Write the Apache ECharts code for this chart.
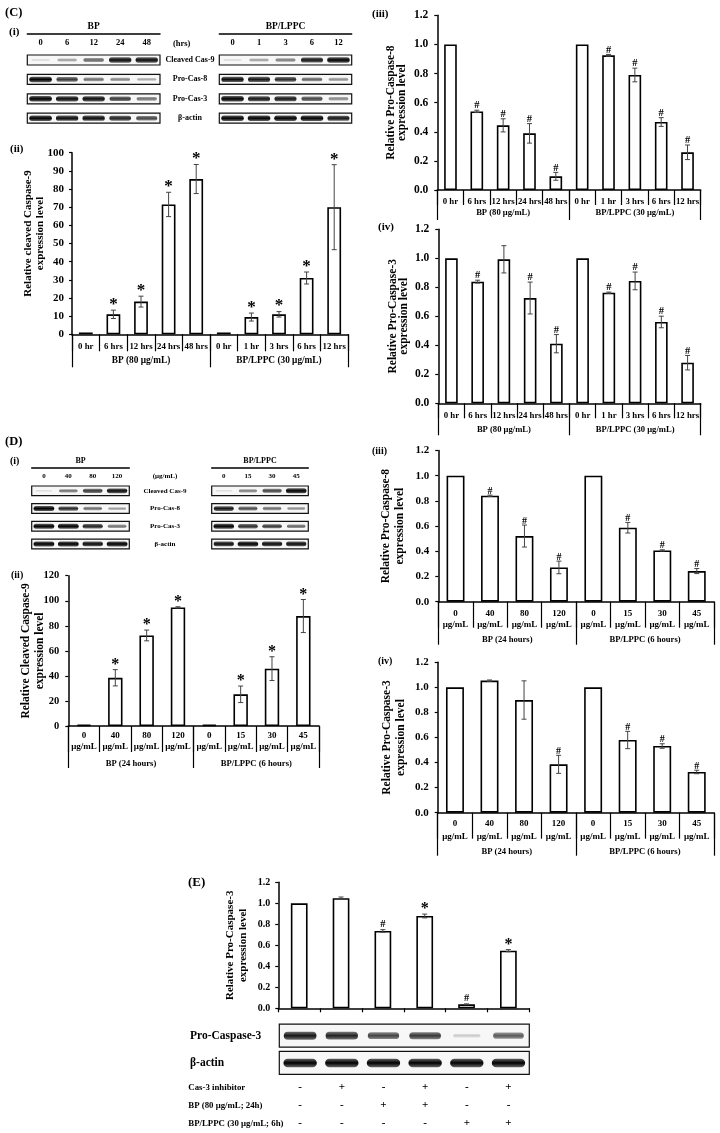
<!DOCTYPE html>
<html><head><meta charset="utf-8">
<script src="https://cdn.jsdelivr.net/npm/echarts@6/dist/echarts.min.js"></script>
<style>html,body{margin:0;padding:0;background:#fff}#c{width:720px;height:1133px}</style>
</head><body><div id="c"></div>
<script>
const FONT = '"Liberation Serif","Times New Roman",serif';

// ---------------- (C) time course ----------------
const cTimeLabels = ['0 hr','6 hrs','12 hrs','24 hrs','48 hrs','0 hr','1 hr','3 hrs','6 hrs','12 hrs'];
const cGroupLabels = ['BP (80 μg/mL)','BP/LPPC (30 μg/mL)'];
const cCleavedCas9 = [1, 11, 18, 71.5, 85.5, 1, 9.5, 11, 31, 70];
const cCleavedCas9Err = [0, 2.3, 3, 6.7, 8, 0, 2.2, 1.5, 3.3, 23.4];
const cCleavedCas9Mark = ['', '*', '*', '*', '*', '', '*', '*', '*', '*'];
const cProCas8 = [1, 0.54, 0.444, 0.389, 0.094, 1, 0.925, 0.79, 0.467, 0.259];
const cProCas8Err = [0, 0.008, 0.045, 0.067, 0.027, 0, 0.006, 0.047, 0.03, 0.05];
const cProCas8Mark = ['', '#', '#', '#', '#', '', '#', '#', '#', '#'];
const cProCas3 = [1, 0.839, 0.993, 0.726, 0.411, 1, 0.763, 0.844, 0.561, 0.28];
const cProCas3Err = [0, 0.01, 0.094, 0.11, 0.063, 0, 0.004, 0.061, 0.04, 0.05];
const cProCas3Mark = ['', '#', '', '#', '#', '', '#', '#', '#', '#'];

const cBlotRows = ['Cleaved Cas-9', 'Pro-Cas-8', 'Pro-Cas-3', 'β-actin'];
const cBlotLanesBP = ['0', '6', '12', '24', '48'];
const cBlotLanesLPPC = ['0', '1', '3', '6', '12'];
const cBlotBP = [
  [0.04, 0.3, 0.55, 0.95, 0.95],
  [1.0, 0.75, 0.5, 0.4, 0.25],
  [1.0, 0.95, 0.95, 0.75, 0.5],
  [1.0, 0.95, 0.95, 0.85, 0.7]
];
const cBlotLPPC = [
  [0.04, 0.3, 0.45, 0.9, 1.0],
  [0.95, 0.9, 0.8, 0.55, 0.35],
  [1.0, 0.9, 0.9, 0.7, 0.4],
  [1.0, 1.0, 1.0, 1.0, 0.9]
];

// ---------------- (D) dose response ----------------
const dDoseLabels = ['0', '40', '80', '120', '0', '15', '30', '45'];
const dGroupLabels = ['BP (24 hours)', 'BP/LPPC (6 hours)'];
const dCleavedCas9 = [1, 38.5, 72.3, 94.7, 1, 25.3, 45.8, 87.8];
const dCleavedCas9Err = [0, 6.5, 4.3, 0.5, 0, 6.6, 9.5, 13.2];
const dCleavedCas9Mark = ['', '*', '*', '*', '', '*', '*', '*'];
const dProCas8 = [1, 0.841, 0.521, 0.272, 1, 0.587, 0.407, 0.243];
const dProCas8Err = [0, 0.005, 0.087, 0.05, 0, 0.042, 0.005, 0.02];
const dProCas8Mark = ['', '#', '#', '#', '', '#', '#', '#'];
const dProCas3 = [1, 1.054, 0.899, 0.386, 1, 0.58, 0.532, 0.325];
const dProCas3Err = [0, 0.005, 0.153, 0.072, 0, 0.069, 0.018, 0.014];
const dProCas3Mark = ['', '', '', '#', '', '#', '#', '#'];

const dBlotRows = ['Cleaved Cas-9', 'Pro-Cas-8', 'Pro-Cas-3', 'β-actin'];
const dBlotLanesBP = ['0', '40', '80', '120'];
const dBlotLanesLPPC = ['0', '15', '30', '45'];
const dBlotBP = [
  [0.03, 0.5, 0.75, 0.95],
  [1.0, 0.8, 0.5, 0.3],
  [1.0, 1.0, 0.85, 0.5],
  [1.0, 1.0, 0.95, 1.0]
];
const dBlotLPPC = [
  [0.03, 0.45, 0.7, 1.0],
  [0.9, 0.65, 0.5, 0.35],
  [1.0, 0.8, 0.75, 0.55],
  [0.95, 1.0, 0.95, 0.95]
];

// ---------------- (E) inhibitor ----------------
const eLanes = ['1', '2', '3', '4', '5', '6'];
const eProCas3 = [1.0, 1.048, 0.737, 0.879, 0.038, 0.549];
const eProCas3Err = [0, 0.012, 0.012, 0.018, 0.004, 0.01];
const eProCas3Mark = ['', '', '#', '*', '#', '*'];
const eBlotRows = ['Pro-Caspase-3', 'β-actin'];
const eBlot = [
  [0.9, 0.85, 0.7, 0.75, 0.1, 0.6],
  [1.0, 1.0, 1.0, 1.0, 1.0, 1.0]
];
const eTreatRows = ['Cas-3 inhibitor', 'BP (80 μg/mL; 24h)', 'BP/LPPC (30 μg/mL; 6h)'];
const eInhibitor = ['-', '+', '-', '+', '-', '+'];
const eBP = ['-', '-', '+', '+', '-', '-'];
const eLPPC = ['-', '-', '-', '-', '+', '+'];

// ---------------- builders ----------------
const grids = [], xAxes = [], yAxes = [], series = [];
function addGrid(g) {
  grids.push(Object.assign({ containLabel: false, outerBoundsMode: 'none', show: false }, g));
  return grids.length - 1;
}
function txt(size, extra) {
  return Object.assign({ fontFamily: FONT, fontWeight: 'bold', fontSize: size, color: '#000' }, extra || {});
}

function errorSeries(xi, yi, values, errors, marks, cfg) {
  return {
    type: 'custom', xAxisIndex: xi, yAxisIndex: yi, silent: true, z: 5,
    data: values.map((v, i) => [i, v, errors[i]]),
    renderItem(params, api) {
      const i = api.value(0), v = api.value(1), e = api.value(2);
      const top = api.coord([i, v + e]);
      const bot = api.coord([i, v - e]);
      const cap = cfg.cap || 2.5;
      const ch = [];
      if (e > 0) {
        const st = { stroke: '#444', lineWidth: 1 };
        ch.push({ type: 'line', shape: { x1: top[0], y1: top[1], x2: bot[0], y2: bot[1] }, style: st });
        ch.push({ type: 'line', shape: { x1: top[0] - cap, y1: top[1], x2: top[0] + cap, y2: top[1] }, style: st });
        ch.push({ type: 'line', shape: { x1: bot[0] - cap, y1: bot[1], x2: bot[0] + cap, y2: bot[1] }, style: st });
      }
      const m = marks[params.dataIndex];
      if (m) {
        const star = m === '*';
        ch.push({
          type: 'text',
          style: {
            text: m, x: top[0], y: top[1] + (star ? cfg.starOff : cfg.hashOff),
            align: 'center', verticalAlign: 'bottom',
            fontFamily: FONT, fontWeight: 'bold', fontSize: star ? cfg.starSize : cfg.hashSize, fill: '#000'
          }
        });
      }
      return { type: 'group', children: ch };
    }
  };
}

function barChart(cfg) {
  const gi = addGrid({ left: cfg.left, top: cfg.top, width: cfg.width, height: cfg.height });
  const xi = xAxes.length;
  xAxes.push({
    gridIndex: gi, type: 'category', position: 'bottom', data: cfg.cats, boundaryGap: true,
    axisLine: { show: true, lineStyle: { color: '#000', width: 1.5 } },
    axisTick: { show: true, interval: 0, length: cfg.catTick, lineStyle: { color: '#000', width: 1.2 } },
    axisLabel: cfg.catShow === false ? { show: false } :
      Object.assign({ interval: 0, margin: cfg.catMargin, formatter: cfg.catFormatter }, txt(cfg.catSize || 9, { lineHeight: cfg.catLH || 11 })),
    splitLine: { show: false }
  });
  if (cfg.groups) {
    xAxes.push({
      gridIndex: gi, type: 'category', position: 'bottom', data: cfg.groups, boundaryGap: true,
      axisLine: { show: false },
      axisTick: { show: true, interval: 0, length: cfg.grpTick, lineStyle: { color: '#000', width: 1.2 } },
      axisLabel: Object.assign({ interval: 0, margin: cfg.grpMargin }, txt(cfg.grpSize || 8.6)),
      splitLine: { show: false }
    });
  }
  const yi = yAxes.length;
  yAxes.push({
    gridIndex: gi, type: 'value', min: 0, max: cfg.max, interval: cfg.interval,
    axisLine: { show: true, lineStyle: { color: '#000', width: 1.5 } },
    axisTick: { show: true, length: 3, lineStyle: { color: '#000', width: 1.2 } },
    splitLine: { show: false },
    axisLabel: Object.assign({ margin: cfg.yMargin, formatter: v => cfg.decimals ? Number(v).toFixed(cfg.decimals) : String(Math.round(v)) }, txt(cfg.ySize || 11)),
    name: cfg.yName, nameLocation: 'middle', nameGap: cfg.nameGap, nameRotate: 90, nameMoveOverlap: false,
    nameTextStyle: txt(cfg.nameSize || 11.5, { lineHeight: cfg.nameLH || 13, align: 'center', padding: cfg.namePad || 0 })
  });
  series.push({
    type: 'bar', xAxisIndex: xi, yAxisIndex: yi, data: cfg.values, barWidth: cfg.barWidth, silent: true,
    itemStyle: { color: '#fff', borderColor: '#000', borderWidth: 1.6 }, z: 2
  });
  series.push(errorSeries(xi, yi, cfg.values, cfg.errors, cfg.marks, cfg));
}

function blot(cfg) {
  const gi = addGrid({ left: cfg.left, top: cfg.top, width: cfg.width, height: cfg.height });
  const xi = xAxes.length;
  xAxes.push({
    gridIndex: gi, type: 'category', position: 'top', data: cfg.lanes, boundaryGap: true,
    axisLine: { show: false }, axisTick: { show: false }, splitLine: { show: false },
    axisLabel: cfg.laneShow === false ? { show: false } : Object.assign({ interval: 0, margin: cfg.laneMargin }, txt(cfg.laneSize || 8.5))
  });
  if (cfg.header) {
    xAxes.push({
      gridIndex: gi, type: 'category', position: 'top', offset: cfg.headerOffset, data: [''],
      axisLine: { show: true, lineStyle: { color: '#000', width: 1.5 } }, axisTick: { show: false },
      axisLabel: { show: false }, splitLine: { show: false },
      name: cfg.header, nameLocation: 'middle', nameGap: cfg.headerGap, nameTextStyle: txt(cfg.headerSize || 9.5)
    });
  }
  const yi = yAxes.length;
  yAxes.push({
    gridIndex: gi, type: 'category', data: cfg.rows, inverse: true, boundaryGap: true,
    axisLine: { show: false }, axisTick: { show: false }, splitLine: { show: false },
    axisLabel: cfg.rowLabels ? Object.assign({ interval: 0, margin: cfg.rowMargin, align: cfg.rowAlign }, txt(cfg.rowSize)) : { show: false }
  });
  series.push({
    type: 'custom', xAxisIndex: xi, yAxisIndex: yi, silent: true, z: 1,
    data: cfg.rows.map((r, i) => [0, i]),
    renderItem(params, api) {
      const cs = params.coordSys;
      const cy = api.coord([0, api.value(1)])[1];
      return { type: 'rect', shape: { x: cs.x, y: cy - cfg.boxH / 2, width: cs.width, height: cfg.boxH },
        style: { fill: '#f7f7f7', stroke: '#111', lineWidth: 1.2 } };
    }
  });
  const data = [];
  cfg.matrix.forEach((row, r) => row.forEach((v, l) => data.push([l, r, v])));
  series.push({
    type: 'custom', xAxisIndex: xi, yAxisIndex: yi, silent: true, z: 2, data,
    renderItem(params, api) {
      const c = api.coord([api.value(0), api.value(1)]);
      const sz = api.size([1, 1]);
      const v = api.value(2);
      const w = sz[0] * cfg.bandW * (0.8 + 0.2 * v);
      const h = Math.max(1.2, cfg.bandH * (0.35 + 0.65 * v));
      const a = 0.08 + 0.92 * v;
      const col = k => 'rgba(0,0,0,' + (a * k).toFixed(3) + ')';
      return { type: 'rect', shape: { x: c[0] - w / 2, y: c[1] - h / 2, width: w, height: h, r: h / 2 },
        style: { fill: { type: 'linear', x: 0, y: 0, x2: 0, y2: 1,
          colorStops: [{ offset: 0, color: col(0.6) }, { offset: 0.5, color: col(1) }, { offset: 1, color: col(0.6) }] } } };
    }
  });
}

function signTable(cfg) {
  const gi = addGrid({ left: cfg.left, top: cfg.top, width: cfg.width, height: cfg.height });
  const xi = xAxes.length;
  xAxes.push({ gridIndex: gi, type: 'category', data: cfg.lanes, show: false });
  const yi = yAxes.length;
  yAxes.push({
    gridIndex: gi, type: 'category', data: cfg.rows, inverse: true,
    axisLine: { show: false }, axisTick: { show: false }, splitLine: { show: false },
    axisLabel: Object.assign({ interval: 0, margin: cfg.rowMargin, align: 'left' }, txt(cfg.rowSize))
  });
  const data = [];
  cfg.signs.forEach((row, r) => row.forEach((s, l) => data.push([l, r])));
  series.push({
    type: 'custom', xAxisIndex: xi, yAxisIndex: yi, silent: true, data,
    renderItem(params, api) {
      const l = api.value(0), r = api.value(1);
      const c = api.coord([l, r]);
      return { type: 'text', style: { text: cfg.signs[r][l], x: c[0], y: c[1], align: 'center', verticalAlign: 'middle',
        fontFamily: FONT, fontWeight: 'bold', fontSize: cfg.signSize, fill: '#000' } };
    }
  });
}

// ---------- (C)(i) blots ----------
blot({ left: 27.3, top: 50.3, width: 132.7, height: 77.6, lanes: cBlotLanesBP, rows: cBlotRows, matrix: cBlotBP,
  laneMargin: 3, laneSize: 8.5, header: 'BP', headerOffset: 16.3, headerGap: 2, headerSize: 9.5,
  boxH: 10, bandH: 5.5, bandW: 0.85, rowLabels: false });
blot({ left: 219.3, top: 50.3, width: 132.4, height: 77.6, lanes: cBlotLanesLPPC, rows: cBlotRows, matrix: cBlotLPPC,
  laneMargin: 3, laneSize: 8.5, header: 'BP/LPPC', headerOffset: 16.3, headerGap: 2, headerSize: 9.5,
  boxH: 10, bandH: 5.5, bandW: 0.85, rowLabels: true, rowMargin: 29.3, rowAlign: 'center', rowSize: 8 });

// ---------- (C)(ii) ----------
barChart({ left: 72, top: 152.7, width: 276, height: 181.6, cats: cTimeLabels, groups: cGroupLabels,
  catTick: 17, catMargin: 6.5, catSize: 8.8, grpTick: 33, grpMargin: 22, grpSize: 9.3,
  max: 100, interval: 10, yMargin: 8, ySize: 11,
  yName: 'Relative cleaved Caspase-9\nexpression level', nameGap: 26, nameSize: 11, nameLH: 12, namePad: [0, 0, 0, 20],
  values: cCleavedCas9, errors: cCleavedCas9Err, marks: cCleavedCas9Mark, barWidth: '50%',
  starSize: 17, starOff: 3, hashSize: 10, hashOff: 0, cap: 2.5 });

// ---------- (C)(iii) ----------
barChart({ left: 437.3, top: 15.3, width: 263.4, height: 174.7, cats: cTimeLabels, groups: cGroupLabels,
  catTick: 15, catMargin: 6.5, catSize: 8.8, grpTick: 30, grpMargin: 18.5, grpSize: 8.6,
  max: 1.2, interval: 0.2, decimals: 1, yMargin: 9, ySize: 11.5,
  yName: 'Relative Pro-Caspase-8\nexpression level', nameGap: 30, nameSize: 11.5, nameLH: 11,
  values: cProCas8, errors: cProCas8Err, marks: cProCas8Mark, barWidth: '48%',
  starSize: 17, starOff: 3, hashSize: 10.5, hashOff: 1, cap: 2.5 });

// ---------- (C)(iv) ----------
barChart({ left: 438.3, top: 229.3, width: 262.4, height: 174, cats: cTimeLabels, groups: cGroupLabels,
  catTick: 15, catMargin: 6.5, catSize: 8.8, grpTick: 32, grpMargin: 22, grpSize: 8.6,
  max: 1.2, interval: 0.2, decimals: 1, yMargin: 9, ySize: 11.5,
  yName: 'Relative Pro-Caspase-3\nexpression level', nameGap: 29, nameSize: 11.5, nameLH: 11,
  values: cProCas3, errors: cProCas3Err, marks: cProCas3Mark, barWidth: '48%',
  starSize: 17, starOff: 3, hashSize: 10.5, hashOff: 1, cap: 2.5 });

// ---------- (D)(i) blots ----------
blot({ left: 31.7, top: 482, width: 97.6, height: 70.8, lanes: dBlotLanesBP, rows: dBlotRows, matrix: dBlotBP,
  laneMargin: 2, laneSize: 7, header: 'BP', headerOffset: 14.7, headerGap: 2, headerSize: 8,
  boxH: 9.7, bandH: 5, bandW: 0.85, rowLabels: false });
blot({ left: 211.7, top: 482, width: 96.6, height: 70.8, lanes: dBlotLanesLPPC, rows: dBlotRows, matrix: dBlotLPPC,
  laneMargin: 2, laneSize: 7, header: 'BP/LPPC', headerOffset: 14.7, headerGap: 2, headerSize: 8,
  boxH: 9.7, bandH: 5, bandW: 0.85, rowLabels: true, rowMargin: 46.7, rowAlign: 'center', rowSize: 7 });

const doseFmt = v => v + '\nμg/mL';

// ---------- (D)(ii) ----------
barChart({ left: 68.3, top: 575.7, width: 250.7, height: 150.3, cats: dDoseLabels, groups: dGroupLabels,
  catTick: 26, catMargin: 4.5, catSize: 9, catLH: 11, catFormatter: doseFmt, grpTick: 42, grpMargin: 33.5, grpSize: 8.6,
  max: 120, interval: 20, yMargin: 9, ySize: 10.5,
  yName: 'Relative Cleaved Caspase-9\nexpression level', nameGap: 21, nameSize: 11.5, nameLH: 14,
  values: dCleavedCas9, errors: dCleavedCas9Err, marks: dCleavedCas9Mark, barWidth: '46%',
  starSize: 16, starOff: 3, hashSize: 10, hashOff: 0, cap: 2.5 });

// ---------- (D)(iii) ----------
barChart({ left: 438.3, top: 450.5, width: 275.7, height: 151.2, cats: dDoseLabels, groups: dGroupLabels,
  catTick: 26, catMargin: 6, catSize: 9, catLH: 11, catFormatter: doseFmt, grpTick: 43, grpMargin: 33.5, grpSize: 8.6,
  max: 1.2, interval: 0.2, decimals: 1, yMargin: 9, ySize: 11,
  yName: 'Relative Pro-Caspase-8\nexpression level', nameGap: 31, nameSize: 11.5, nameLH: 14,
  values: dProCas8, errors: dProCas8Err, marks: dProCas8Mark, barWidth: '52%',
  starSize: 16, starOff: 3, hashSize: 10, hashOff: 1, cap: 2.5 });

// ---------- (D)(iv) ----------
barChart({ left: 437.7, top: 662.3, width: 276.3, height: 150.4, cats: dDoseLabels, groups: dGroupLabels,
  catTick: 26, catMargin: 5, catSize: 9, catLH: 12.5, catFormatter: doseFmt, grpTick: 43, grpMargin: 34.5, grpSize: 8.6,
  max: 1.2, interval: 0.2, decimals: 1, yMargin: 9, ySize: 11,
  yName: 'Relative Pro-Caspase-3\nexpression level', nameGap: 30, nameSize: 11.5, nameLH: 14,
  values: dProCas3, errors: dProCas3Err, marks: dProCas3Mark, barWidth: '52%',
  starSize: 16, starOff: 3, hashSize: 10, hashOff: 1, cap: 2.5 });

// ---------- (E) ----------
barChart({ left: 278.3, top: 882.3, width: 251, height: 126, cats: eLanes, catShow: false, catTick: 4,
  max: 1.2, interval: 0.2, decimals: 1, yMargin: 8, ySize: 10,
  yName: 'Relative Pro-Caspase-3\nexpression level', nameGap: 28, nameSize: 11, nameLH: 13.3,
  values: eProCas3, errors: eProCas3Err, marks: eProCas3Mark, barWidth: '40%',
  starSize: 16, starOff: 3, hashSize: 10.5, hashOff: 0, cap: 2.5 });

blot({ left: 279.3, top: 1022.1, width: 250, height: 54.4, lanes: eLanes, laneShow: false, rows: eBlotRows, matrix: eBlot,
  boxH: 23, bandH: 8.5, bandW: 0.8, rowLabels: true, rowMargin: 89.3, rowAlign: 'left', rowSize: 11.5 });

signTable({ left: 279.3, top: 1078.3, width: 250, height: 54, lanes: eLanes, rows: eTreatRows,
  signs: [eInhibitor, eBP, eLPPC], rowMargin: 91, rowSize: 8.8, signSize: 11 });

// ---------- panel labels ----------
function label(text, x, y, size, align) {
  return { type: 'text', x: x, y: y, silent: true,
    style: { text: text, fontFamily: FONT, fontWeight: 'bold', fontSize: size, fill: '#000',
      align: align || 'left', verticalAlign: 'middle' } };
}
const graphics = [
  label('(C)', 5, 13, 12.5),
  label('(i)', 9, 32, 11),
  label('(hrs)', 181.7, 43.3, 8.5, 'center'),
  label('(ii)', 10, 149, 11),
  label('(iii)', 372, 14, 11),
  label('(iv)', 378, 227, 11),
  label('(D)', 5, 442, 12.5),
  label('(i)', 10, 461, 10),
  label('(μg/mL)', 165, 476, 7, 'center'),
  label('(ii)', 11, 575, 10),
  label('(iii)', 372, 451, 10),
  label('(iv)', 378, 661, 10),
  label('(E)', 188, 883, 13)
];

const chart = echarts.init(document.getElementById('c'), null, { renderer: 'canvas' });
chart.setOption({
  animation: false,
  backgroundColor: '#fff',
  textStyle: { fontFamily: FONT },
  grid: grids, xAxis: xAxes, yAxis: yAxes, series: series,
  graphic: graphics
});
</script></body></html>
